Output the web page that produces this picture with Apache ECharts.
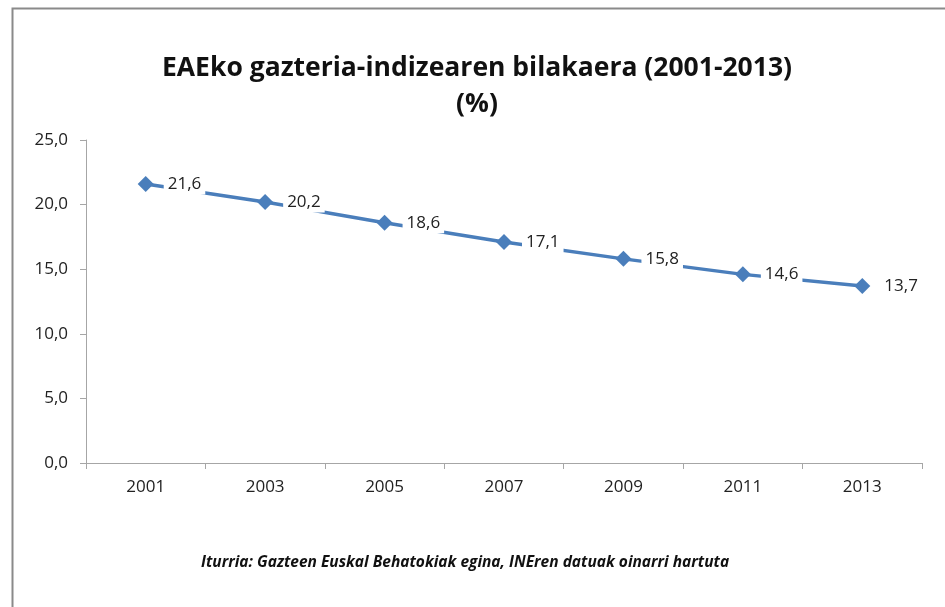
<!DOCTYPE html>
<html><head><meta charset="utf-8">
<script src="https://cdn.jsdelivr.net/npm/echarts@6/dist/echarts.min.js"></script>
<style>html,body{margin:0;padding:0;background:#fff}#c{width:945px;height:607px}</style>
</head><body><div id="c"></div>
<script>
const years = ['2001','2003','2005','2007','2009','2011','2013'];
const values = [21.6, 20.2, 18.6, 17.1, 15.8, 14.6, 13.7];
const titleLines = ['EAEko gazteria-indizearen bilakaera (2001-2013)', '(%)'];
const sourceText = 'Iturria: Gazteen Euskal Behatokiak egina, INEren datuak oinarri hartuta';

const fmt = v => v.toFixed(1).replace('.', ',');
const chart = echarts.init(document.getElementById('c'), null, {renderer:'canvas'});
chart.setOption({
  backgroundColor: '#fff',
  animation: false,
  title: {
    text: titleLines.join('\n'),
    left: 472, top: 45, textAlign: 'center',
    textStyle: {fontFamily: 'Open Sans', fontWeight: 'bold', fontSize: 26.5, color: '#111', lineHeight: 36}
  },
  graphic: [
    {type:'rect', left:10, top:6, shape:{width:1000, height:700}, style:{fill:'none', stroke:'#8a8a8a', lineWidth:2}, silent:true},
    {type:'text', left:201, top:555, style:{text: sourceText, font:'italic bold 15.5px "Open Sans"', fill:'#111'}}
  ],
  grid: {left: 86, right: 23, top: 140, bottom: 144, containLabel: false},
  xAxis: {
    type: 'category', data: years, boundaryGap: true,
    axisLine: {lineStyle: {color: '#a6a6a6', width: 1}},
    axisTick: {show: true, length: 6, interval: 0, lineStyle: {color: '#a6a6a6'}},
    axisLabel: {fontFamily: 'Open Sans', fontSize: 17, color: '#222', margin: 16},
    splitLine: {show: false}
  },
  yAxis: {
    type: 'value', min: 0, max: 25, interval: 5,
    axisLine: {show: true, lineStyle: {color: '#a6a6a6'}},
    axisTick: {show: true, length: 6, lineStyle: {color: '#a6a6a6'}},
    axisLabel: {fontFamily: 'Open Sans', fontSize: 17, color: '#222', margin: 18, formatter: v => fmt(v)},
    splitLine: {show: false}
  },
  series: [{
    type: 'line', data: values,
    lineStyle: {color: '#4A7EBB', width: 3.5},
    itemStyle: {color: '#4A7EBB'},
    symbol: 'diamond', symbolSize: 16,
    label: {
      show: true, position: 'right', distance: 10,
      formatter: p => fmt(p.value),
      fontFamily: 'Open Sans', fontSize: 17, color: '#222',
      backgroundColor: '#fff', padding: [4, 4, 0, 4]
    }
  }]
});
</script></body></html>
